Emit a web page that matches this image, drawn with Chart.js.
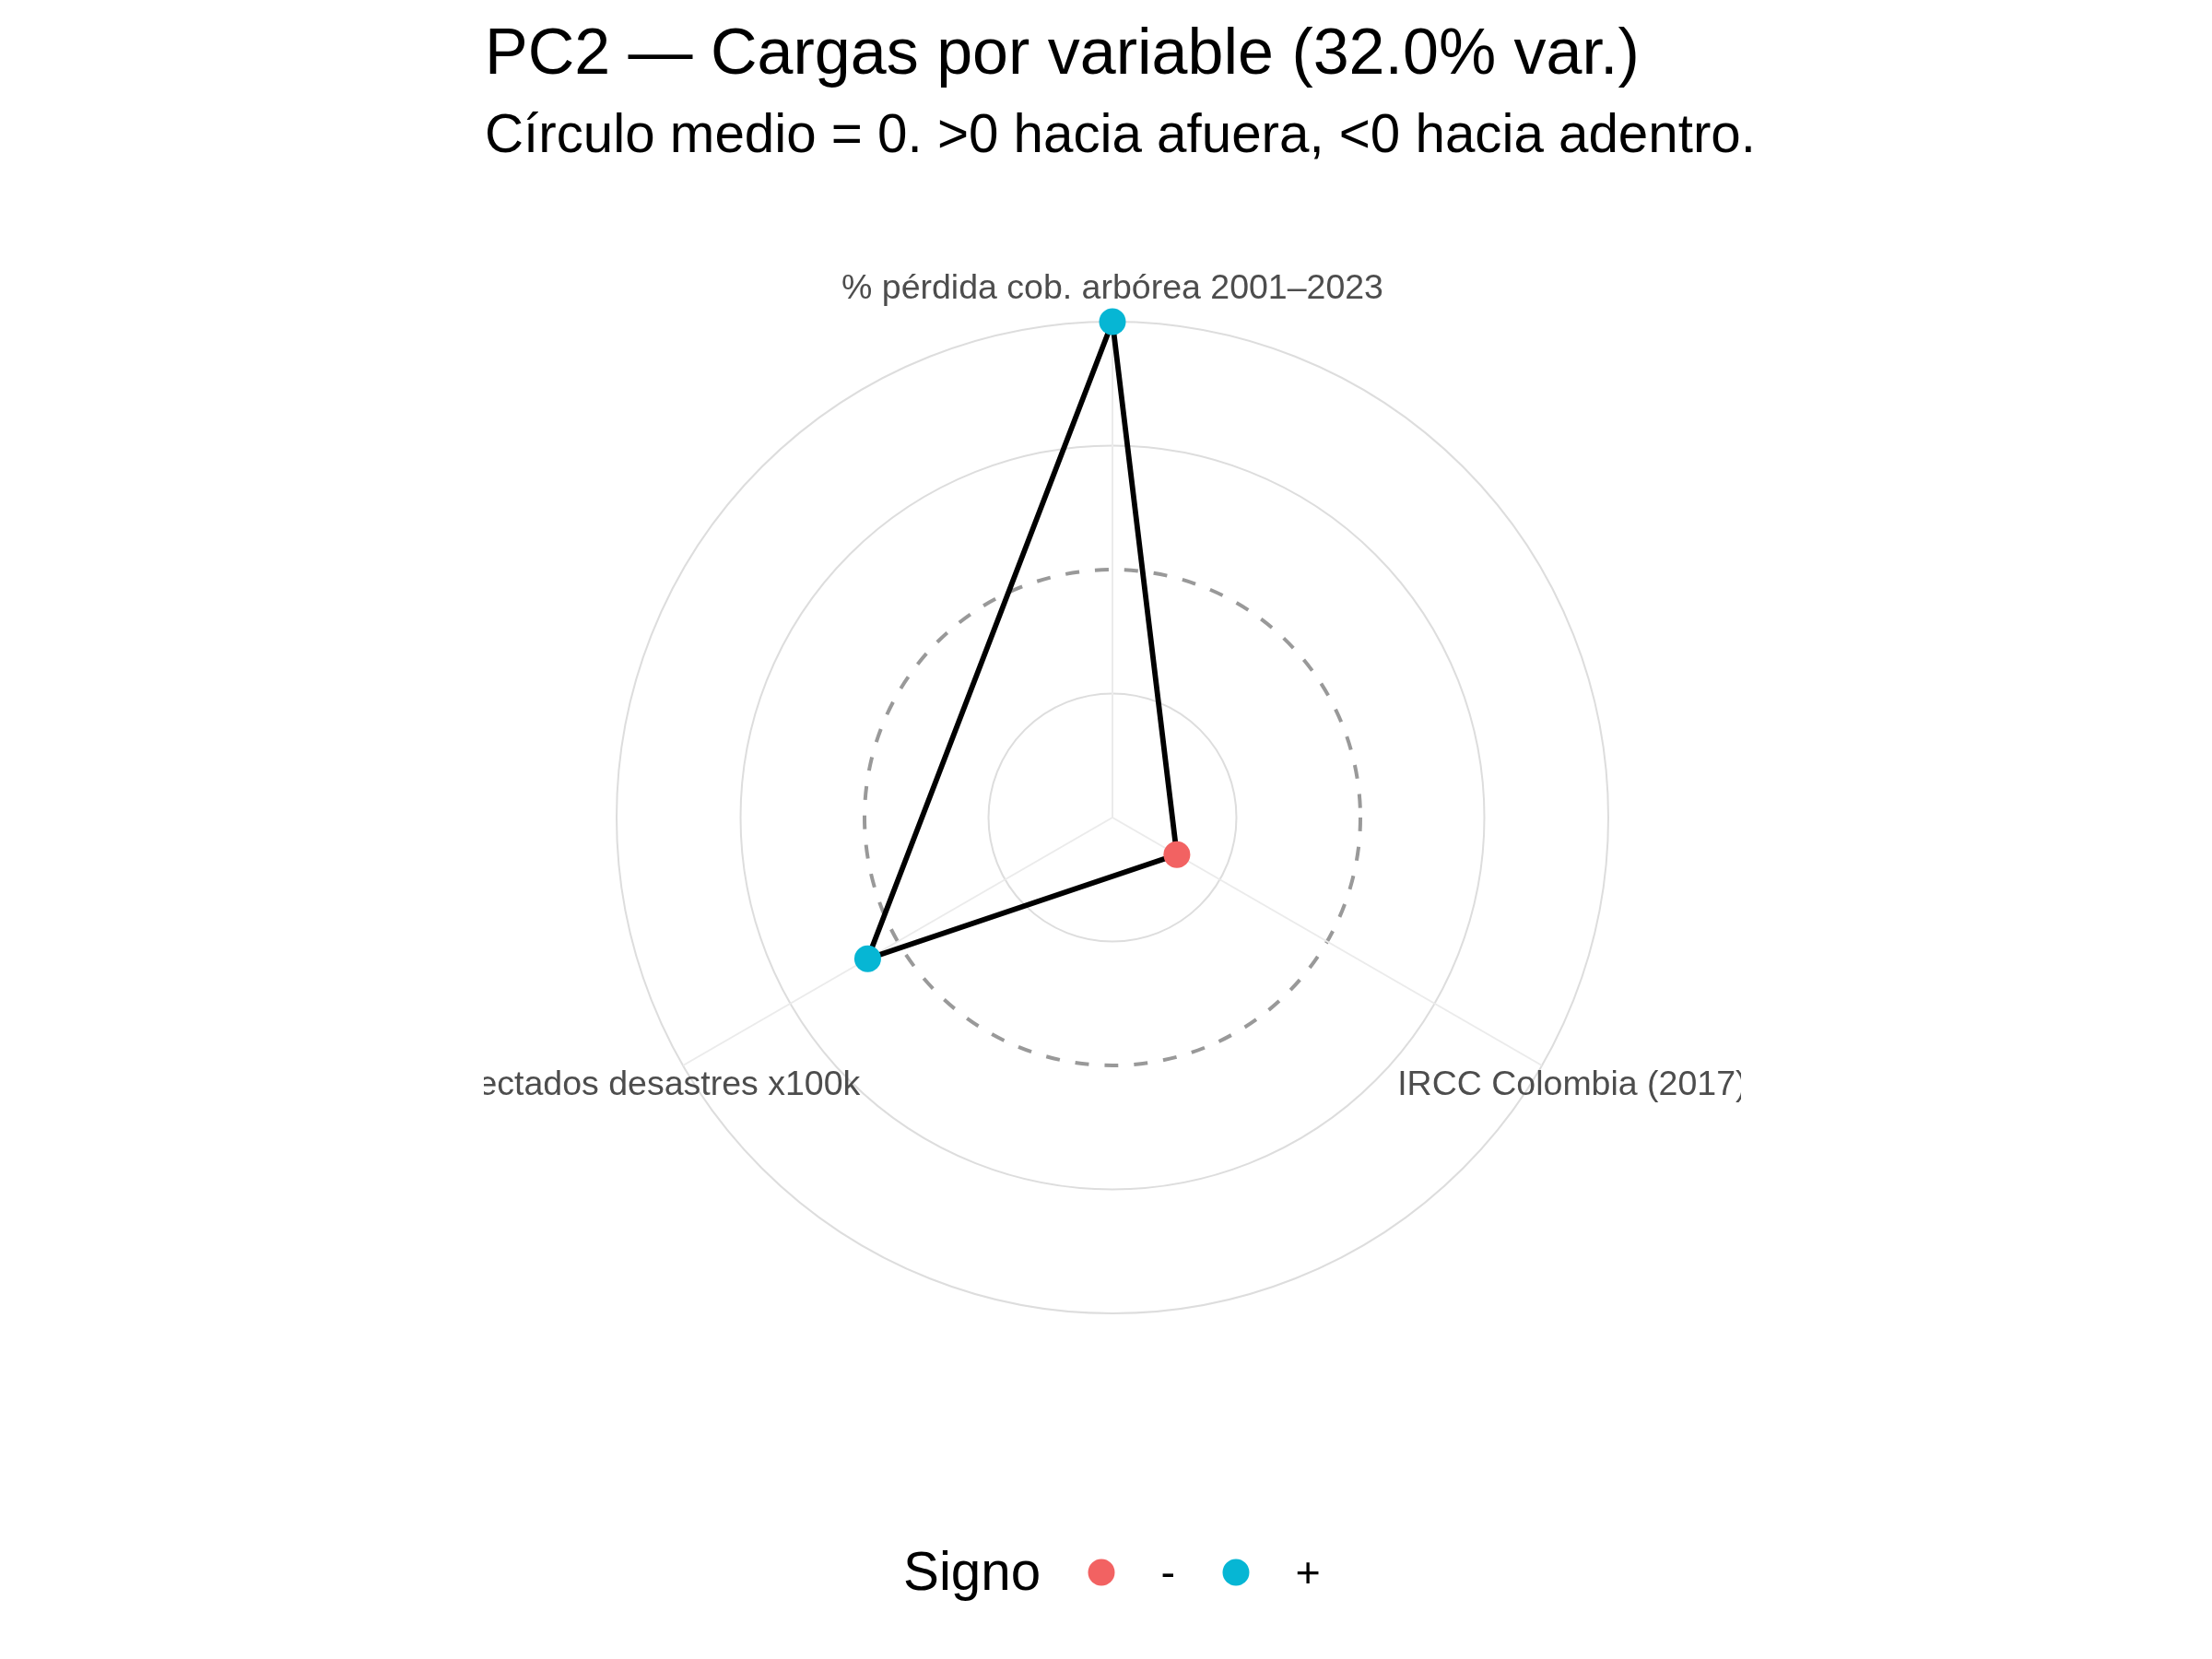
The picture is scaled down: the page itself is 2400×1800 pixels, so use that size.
<!DOCTYPE html>
<html>
<head>
<meta charset="utf-8">
<script src="https://cdn.jsdelivr.net/npm/chart.js@4.4.1/dist/chart.umd.min.js"></script>
<style>
  html, body { margin: 0; padding: 0; background: #ffffff; }
  canvas { display: block; }
</style>
</head>
<body>
<canvas id="c" width="2400" height="1800"></canvas>
<script>
// ---- data ----
const titleText = "PC2 — Cargas por variable (32.0% var.)";
const subtitleText = "Círculo medio = 0. >0 hacia afuera, <0 hacia adentro.";
const variables = ["% pérdida cob. arbórea 2001–2023", "IRCC Colombia (2017)", "Afectados desastres x100k"];
const loadings = [1.00, -0.70, 0.14];
const signs = ["+", "-", "+"];
const legendTitle = "Signo";
const legendLevels = ["-", "+"];
const radialMin = -1;
const radialMax = 1;
const radialStep = 0.5;

// ---- styles ----
const signColors = { "-": "#F26262", "+": "#06B6D4" };
const FONT = "'Liberation Sans', Arial, Helvetica, sans-serif";

const decorPlugin = {
  id: 'decor',
  beforeDraw(chart) {
    const ctx = chart.ctx;
    ctx.save();
    ctx.fillStyle = '#ffffff';
    ctx.fillRect(0, 0, chart.width, chart.height);
    ctx.restore();
  },
  afterDraw(chart) {
    const ctx = chart.ctx;
    const scale = chart.scales.r;
    // Title & subtitle
    ctx.save();
    ctx.fillStyle = '#000000';
    ctx.textAlign = 'left';
    ctx.textBaseline = 'alphabetic';
    ctx.font = `70px ${FONT}`;
    ctx.fillText(titleText, 526, 80);
    ctx.font = `58.3px ${FONT}`;
    ctx.fillText(subtitleText, 526, 165);
    ctx.restore();

    // Point (axis) labels, clipped to the panel
    ctx.save();
    ctx.beginPath();
    ctx.rect(scale.xCenter - 682, scale.yCenter - 682, 1364, 1364);
    ctx.clip();
    ctx.fillStyle = '#4D4D4D';
    ctx.font = `37.5px ${FONT}`;
    ctx.textAlign = 'center';
    ctx.textBaseline = 'alphabetic';
    variables.forEach((lab, i) => {
      const p = scale.getPointPosition(i, scale.drawingArea + 38);
      ctx.fillText(lab, p.x, p.y + 13.3);
    });
    ctx.restore();

    // Legend
    ctx.save();
    ctx.fillStyle = '#000000';
    ctx.textBaseline = 'alphabetic';
    ctx.textAlign = 'left';
    ctx.font = `58.3px ${FONT}`;
    ctx.fillText(legendTitle, 980, 1725);
    const keyX = [1195, 1341];
    const txtX = [1259.5, 1405.5];
    legendLevels.forEach((lv, i) => {
      ctx.beginPath();
      ctx.arc(keyX[i], 1706, 14.5, 0, Math.PI * 2);
      ctx.fillStyle = signColors[lv];
      ctx.fill();
      ctx.fillStyle = '#000000';
      ctx.font = `46.7px ${FONT}`;
      ctx.fillText(lv, txtX[i], 1722);
    });
    ctx.restore();
  }
};

const pointCols = signs.map(s => signColors[s]);

new Chart(document.getElementById('c'), {
  type: 'radar',
  data: {
    labels: variables,
    datasets: [{
      data: loadings,
      borderColor: '#000000',
      borderWidth: 5.8,
      borderJoinStyle: 'round',
      borderCapStyle: 'round',
      fill: false,
      backgroundColor: 'rgba(0,0,0,0)',
      tension: 0,
      pointRadius: 14.5,
      pointHoverRadius: 14.5,
      pointBorderWidth: 0,
      pointBackgroundColor: pointCols,
      pointBorderColor: pointCols,
      clip: false
    }]
  },
  options: {
    responsive: false,
    maintainAspectRatio: false,
    animation: false,
    devicePixelRatio: 1,
    events: [],
    layout: { padding: { left: 526, right: 511, top: 349, bottom: 375 } },
    plugins: {
      legend: { display: false },
      tooltip: { enabled: false },
      title: { display: false }
    },
    scales: {
      r: {
        min: radialMin,
        max: radialMax,
        ticks: { display: false, stepSize: radialStep },
        pointLabels: { display: false },
        angleLines: { display: true, color: '#EBEBEB', lineWidth: 2 },
        grid: {
          circular: true,
          color: c => (c.tick && c.tick.value === 0) ? '#999999' : (c.tick && c.tick.value === radialMin ? 'rgba(0,0,0,0)' : '#DDDDDD'),
          lineWidth: c => (c.tick && c.tick.value === 0) ? 4 : 2
        },
        border: {
          dash: c => (c.tick && c.tick.value === 0) ? [15, 17] : []
        }
      }
    }
  },
  plugins: [decorPlugin]
});
</script>
</body>
</html>
